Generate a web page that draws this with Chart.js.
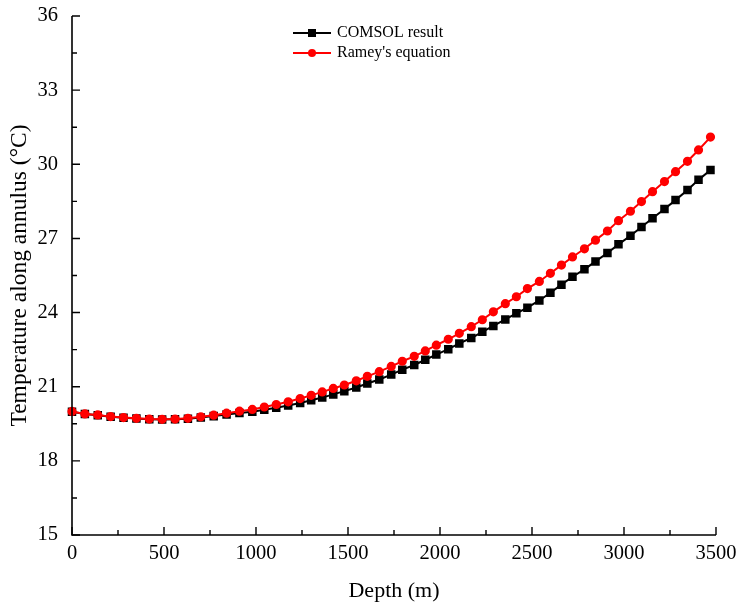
<!DOCTYPE html>
<html>
<head>
<meta charset="utf-8">
<script src="https://cdn.jsdelivr.net/npm/chart.js@4/dist/chart.umd.min.js"></script>
<style>
  html, body { margin: 0; padding: 0; background: #fff; }
  #wrap { width: 736px; height: 607px; }
</style>
</head>
<body>
<div id="wrap"><canvas id="c" width="736" height="607"></canvas></div>
<script>
// depth (m) of each sample point
var depths = [0, 70, 140, 210, 280, 350, 420, 490, 560, 630, 700, 770, 840, 910, 980,
  1045, 1110, 1175, 1240, 1300, 1360, 1420, 1480, 1545, 1605, 1670, 1735, 1795, 1860,
  1920, 1980, 2045, 2105, 2170, 2230, 2290, 2355, 2415, 2475, 2540, 2600, 2660, 2720,
  2785, 2845, 2910, 2970, 3035, 3095, 3155, 3220, 3280, 3345, 3405, 3470];

// COMSOL result (°C)
var comsol = [19.99, 19.90, 19.85, 19.78, 19.74, 19.71, 19.68, 19.67, 19.68, 19.70, 19.75,
  19.81, 19.88, 19.94, 19.99, 20.07, 20.15, 20.24, 20.34, 20.45, 20.56, 20.69, 20.82,
  20.97, 21.13, 21.29, 21.49, 21.69, 21.88, 22.09, 22.30, 22.52, 22.75, 22.97, 23.22,
  23.46, 23.72, 23.97, 24.20, 24.49, 24.80, 25.13, 25.45, 25.75, 26.07, 26.41, 26.76,
  27.11, 27.46, 27.82, 28.19, 28.55, 28.96, 29.37, 29.77];

// Ramey's equation (°C)
var ramey = [20.00, 19.90, 19.86, 19.79, 19.75, 19.72, 19.69, 19.68, 19.69, 19.72, 19.78,
  19.85, 19.93, 20.01, 20.08, 20.18, 20.28, 20.39, 20.52, 20.65, 20.79, 20.93, 21.07,
  21.24, 21.42, 21.61, 21.82, 22.03, 22.23, 22.45, 22.68, 22.92, 23.16, 23.43, 23.71,
  24.03, 24.36, 24.64, 24.97, 25.26, 25.59, 25.92, 26.25, 26.58, 26.93, 27.30, 27.72,
  28.10, 28.49, 28.89, 29.30, 29.70, 30.12, 30.58, 31.10];

var xTicks = [0, 500, 1000, 1500, 2000, 2500, 3000, 3500];
var yTicks = [15, 18, 21, 24, 27, 30, 33, 36];

var FONT = '"Liberation Serif", "Times New Roman", serif';

function toXY(ys) {
    return depths.map(function (d, i) { return { x: d, y: ys[i] }; });
}

/* ----------------------------------------------------------
   Axes with inward ticks (major + minor) and the legend
---------------------------------------------------------- */
var axesPlugin = {
    id: 'axesInward',
    afterDraw: function (chart) {
        var ctx = chart.ctx;
        var a = chart.chartArea;
        var xs = chart.scales.x, ys = chart.scales.y;
        ctx.save();
        ctx.strokeStyle = '#000';
        ctx.lineWidth = 1.6;
        ctx.beginPath();
        ctx.moveTo(a.left, a.top);
        ctx.lineTo(a.left, a.bottom);
        ctx.lineTo(a.right, a.bottom);
        ctx.stroke();

        ctx.lineWidth = 1.4;
        ctx.beginPath();
        xTicks.forEach(function (v, i) {
            var px = xs.getPixelForValue(v);
            ctx.moveTo(px, a.bottom);
            ctx.lineTo(px, a.bottom - 8);
            if (i < xTicks.length - 1) {
                var mx = xs.getPixelForValue((v + xTicks[i + 1]) / 2);
                ctx.moveTo(mx, a.bottom);
                ctx.lineTo(mx, a.bottom - 5);
            }
        });
        yTicks.forEach(function (v, i) {
            var py = ys.getPixelForValue(v);
            ctx.moveTo(a.left, py);
            ctx.lineTo(a.left + 8, py);
            if (i < yTicks.length - 1) {
                var my = ys.getPixelForValue((v + yTicks[i + 1]) / 2);
                ctx.moveTo(a.left, my);
                ctx.lineTo(a.left + 5, my);
            }
        });
        ctx.stroke();

        // legend
        var items = [chart.data.datasets[0], chart.data.datasets[1]];
        ctx.font = '16px ' + FONT;
        ctx.textBaseline = 'middle';
        ctx.textAlign = 'left';
        items.forEach(function (ds, i) {
            var y = 33 + i * 20;
            ctx.strokeStyle = ds.borderColor;
            ctx.lineWidth = 2;
            ctx.beginPath();
            ctx.moveTo(293, y);
            ctx.lineTo(331, y);
            ctx.stroke();
            ctx.fillStyle = ds.pointBackgroundColor;
            if (ds.pointStyle === 'rect') {
                ctx.fillRect(308, y - 4, 8, 8);
            } else {
                ctx.beginPath();
                ctx.arc(312, y, 4, 0, Math.PI * 2);
                ctx.fill();
            }
            ctx.fillStyle = '#000';
            ctx.fillText(ds.label, 337, y);
        });
        ctx.restore();
    }
};

new Chart(document.getElementById('c'), {
    type: 'line',
    data: {
        datasets: [
            {
                label: 'COMSOL result',
                data: toXY(comsol),
                borderColor: '#000000',
                backgroundColor: '#000000',
                pointBackgroundColor: '#000000',
                pointBorderColor: '#000000',
                pointStyle: 'rect',
                pointRadius: 4.6,
                borderWidth: 2,
                tension: 0,
                order: 1
            },
            {
                label: "Ramey's equation",
                data: toXY(ramey),
                borderColor: '#ff0000',
                backgroundColor: '#ff0000',
                pointBackgroundColor: '#ff0000',
                pointBorderColor: '#ff0000',
                pointStyle: 'circle',
                pointRadius: 3.6,
                borderWidth: 2,
                tension: 0,
                order: 0
            }
        ]
    },
    options: {
        responsive: false,
        animation: false,
        clip: false,
        layout: { padding: { left: 0, right: 20, top: 16, bottom: 0 } },
        plugins: {
            legend: { display: false },
            tooltip: { enabled: false }
        },
        scales: {
            x: {
                type: 'linear',
                min: 0, max: 3500,
                grid: { display: false, drawTicks: false },
                border: { display: false },
                afterBuildTicks: function (s) {
                    s.ticks = xTicks.map(function (v) { return { value: v }; });
                },
                afterFit: function (s) {
                    s.height = 72;
                    s.paddingLeft = 0;
                    s.paddingRight = 0;
                },
                ticks: {
                    color: '#000', padding: 6, font: { family: FONT, size: 20.5 },
                    callback: function (v) { return String(v); }
                },
                title: {
                    display: true, text: 'Depth (m)', color: '#000',
                    font: { family: FONT, size: 22 },
                    padding: { top: 0, bottom: 3 }
                }
            },
            y: {
                type: 'linear',
                min: 15, max: 36,
                grid: { display: false, drawTicks: false },
                border: { display: false },
                afterBuildTicks: function (s) {
                    s.ticks = yTicks.map(function (v) { return { value: v }; });
                },
                afterFit: function (s) {
                    s.width = 72;
                    s.paddingTop = 0;
                    s.paddingBottom = 0;
                },
                ticks: {
                    color: '#000', padding: 14, font: { family: FONT, size: 20.5 },
                    callback: function (v) { return String(v); }
                },
                title: {
                    display: true, text: 'Temperature along annulus (\u00B0C)', color: '#000',
                    font: { family: FONT, size: 23.5 },
                    padding: { top: 6, bottom: 0 }
                }
            }
        }
    },
    plugins: [axesPlugin]
});
</script>
</body>
</html>
